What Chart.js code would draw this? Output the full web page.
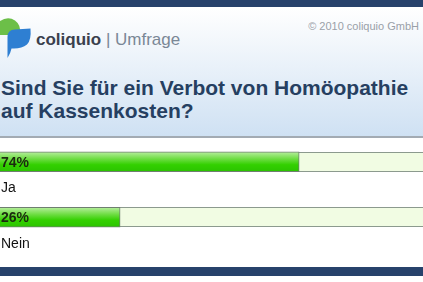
<!DOCTYPE html>
<html><head><meta charset="utf-8">
<script src="https://cdn.jsdelivr.net/npm/chart.js@4"></script>
<style>
html,body{margin:0;padding:0;}
body{width:423px;height:282px;position:relative;overflow:hidden;background:#fff;font-family:"Liberation Sans",Arial,sans-serif;}
#topbar{position:absolute;left:0;top:0;width:423px;height:7px;background:#27426b;}
#header{position:absolute;left:0;top:7px;width:423px;height:129px;background:linear-gradient(#ffffff 0%,#f1f6fb 30%,#cfe1f3 100%);}
#sep{position:absolute;left:0;top:136px;width:423px;height:2px;background:#a3abb3;}
#logo{position:absolute;left:0;top:14px;}
.t{position:absolute;white-space:nowrap;line-height:1;}
#brand{left:36px;top:30.6px;font-size:17px;}
#brand b{color:#3a404d;}
#brand span{color:#7a8796;}
#copy{right:4px;top:20.7px;font-size:11px;color:#9aa0a8;}
#title{position:absolute;left:1px;top:76px;font-size:21px;line-height:23px;font-weight:bold;color:#263f61;}
#bottombar{position:absolute;left:0;top:267px;width:423px;height:9px;background:#27426b;}
#wrap{position:absolute;left:0;top:130px;width:423px;height:137px;}
</style></head>
<body>
<div id="topbar"></div>
<div id="header"></div>
<div id="sep"></div>
<svg id="logo" width="34" height="48" viewBox="0 14 34 48">
  <path d="M0,21 Q8,16 15,20.5 Q21.5,25 20,35 L0,35 Z" fill="#6cbf48"/>
  <path d="M7.5,58 L7.5,37 Q7.5,29.5 15,29.5 L30.5,28.5 Q31.5,40 27,44.5 Q22,48.5 14,48.5 L11.5,48.5 Q10.5,53.5 7.5,58 Z" fill="#2e7fd2"/>
</svg>
<div class="t" id="brand"><b>coliquio</b><span> | Umfrage</span></div>
<div class="t" id="copy">© 2010 coliquio GmbH</div>
<div id="title">Sind Sie für ein Verbot von Homöopathie<br>auf Kassenkosten?</div>
<div id="wrap"><canvas id="c" width="423" height="137"></canvas></div>
<div id="bottombar"></div>
<script>
const categories = ["Ja", "Nein"];
const values = [74, 26];
const valueLabels = ["74%", "26%"];

const trackPlugin = {
  id: 'track',
  beforeDatasetsDraw(chart) {
    const ctx = chart.ctx, a = chart.chartArea;
    chart.getDatasetMeta(0).data.forEach(bar => {
      const top = Math.round(bar.y - bar.height / 2), h = Math.round(bar.height);
      ctx.save();
      ctx.fillStyle = '#f1fce3';
      ctx.fillRect(a.left, top, a.right - a.left, h);
      ctx.fillStyle = '#8c9a8e';
      ctx.fillRect(a.left, top, a.right - a.left, 1);
      ctx.fillRect(a.left, top + h - 1, a.right - a.left, 1);
      ctx.restore();
    });
  },
  afterDatasetsDraw(chart) {
    const ctx = chart.ctx;
    chart.getDatasetMeta(0).data.forEach((bar, i) => {
      ctx.save();
      ctx.textBaseline = 'middle';
      ctx.textAlign = 'left';
      ctx.font = 'bold 14px "Liberation Sans", Arial, sans-serif';
      ctx.fillStyle = '#1b2a0f';
      ctx.fillText(valueLabels[i], 1, bar.y + 1);
      ctx.font = '14px "Liberation Sans", Arial, sans-serif';
      ctx.fillStyle = '#111';
      ctx.fillText(categories[i], 1, bar.y + 26.5);
      ctx.restore();
    });
  }
};

new Chart(document.getElementById('c'), {
  type: 'bar',
  data: {
    labels: categories,
    datasets: [{
      data: values,
      base: -6.2,
      barThickness: 20,
      backgroundColor(ctx) {
        const chart = ctx.chart, ys = chart.scales.y;
        const yc = ys ? ys.getPixelForValue(ctx.dataIndex) : NaN;
        if (!isFinite(yc)) return '#33cc00';
        const g = chart.ctx.createLinearGradient(0, yc - 10, 0, yc + 10);
        g.addColorStop(0, '#b8eea0');
        g.addColorStop(0.35, '#6fdd44');
        g.addColorStop(0.65, '#33d000');
        g.addColorStop(1, '#2bc300');
        return g;
      },
      borderColor: '#6f7f70',
      borderWidth: {top: 1, bottom: 1, right: 1, left: 0},
      borderSkipped: false
    }]
  },
  options: {
    indexAxis: 'y',
    responsive: false,
    animation: false,
    layout: {padding: {top: 4, bottom: 22, left: 0, right: 0}},
    plugins: {legend: {display: false}, tooltip: {enabled: false}},
    scales: {
      x: {display: false, min: -6.2, max: 107.2},
      y: {display: false, offset: true}
    }
  },
  plugins: [trackPlugin]
});
</script>
</body></html>
